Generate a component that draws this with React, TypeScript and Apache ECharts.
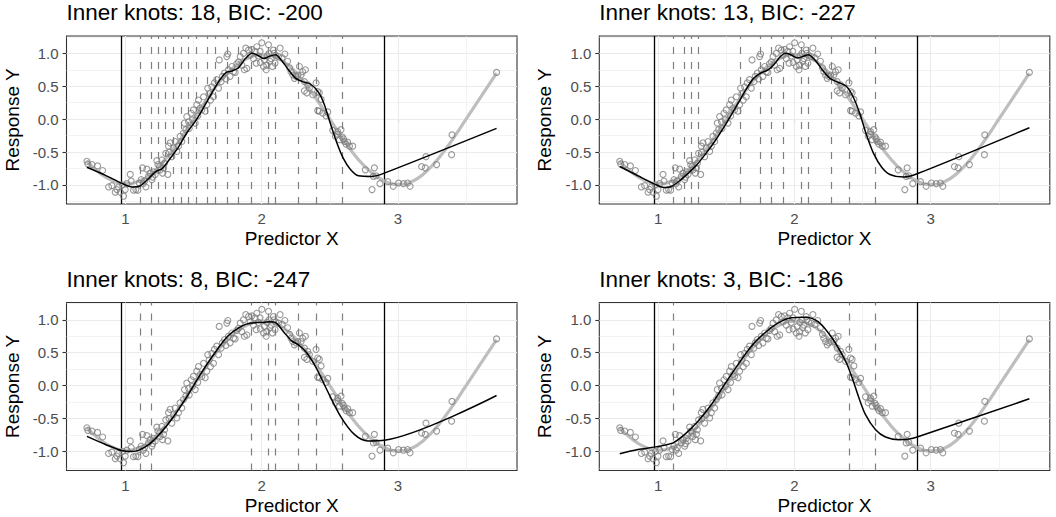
import React, { useEffect, useRef } from "react";
import * as echarts from "echarts";

// ---------- data ----------
const pointX = [
  0.717, 0.724, 0.754, 0.795, 0.832, 0.876, 0.9, 0.925, 0.937, 0.949, 0.961, 0.979, 0.986, 0.998,
  1.01, 1.035, 1.042, 1.059, 1.076, 1.091, 1.101, 1.115, 1.125, 1.13, 1.14, 1.15, 1.157, 1.169,
  1.181, 1.194, 1.2, 1.206, 1.218, 1.23, 1.238, 1.25, 1.255, 1.267, 1.272, 1.28, 1.287, 1.296,
  1.311, 1.316, 1.32, 1.328, 1.34, 1.353, 1.365, 1.377, 1.389, 1.401, 1.414, 1.426, 1.433, 1.443,
  1.45, 1.463, 1.468, 1.482, 1.492, 1.499, 1.512, 1.524, 1.531, 1.536, 1.548, 1.56, 1.573, 1.585,
  1.597, 1.604, 1.614, 1.624, 1.634, 1.646, 1.653, 1.67, 1.683, 1.688, 1.702, 1.712, 1.727, 1.737,
  1.744, 1.751, 1.756, 1.768, 1.781, 1.793, 1.805, 1.817, 1.83, 1.842, 1.854, 1.866, 1.873, 1.883,
  1.891, 1.903, 1.915, 1.927, 1.939, 1.952, 1.96, 1.964, 1.976, 1.988, 1.99, 2.001, 2.013, 2.02,
  2.033, 2.037, 2.04, 2.05, 2.054, 2.06, 2.069, 2.079, 2.086, 2.09, 2.098, 2.103, 2.123, 2.135,
  2.15, 2.17, 2.19, 2.205, 2.215, 2.228, 2.24, 2.252, 2.265, 2.277, 2.289, 2.301, 2.313, 2.321,
  2.313, 2.331, 2.338, 2.35, 2.375, 2.399, 2.411, 2.423, 2.436, 2.411, 2.423, 2.448, 2.485, 2.472,
  2.521, 2.541, 2.558, 2.56, 2.582, 2.57, 2.59, 2.6, 2.607, 2.62, 2.631, 2.644, 2.668, 2.761,
  2.81, 2.827, 2.82, 2.839, 2.868, 2.925, 2.966, 3.005, 3.04, 3.071, 3.089, 3.174, 3.201, 3.206,
  3.284, 3.394, 3.397, 3.724,
];
const pointY = [
  -0.64, -0.68, -0.69, -0.71, -0.78, -1.03, -1.01, -1.11, -1.07, -1.03, -1.11, -1.0, -1.17, -1.07,
  -0.98, -0.84, -0.94, -1.08, -1.07, -1.08, -0.97, -0.92, -0.74, -0.98, -0.94, -1.03, -0.76, -0.87,
  -0.82, -0.92, -0.88, -0.8, -0.84, -0.63, -0.69, -0.72, -0.77, -0.62, -0.82, -0.74, -0.67, -0.52,
  -0.84, -0.41, -0.5, -0.36, -0.57, -0.44, -0.34, -0.49, -0.41, -0.26, -0.34, -0.21, -0.06, -0.16,
  0.04, -0.04, -0.14, 0.09, -0.01, 0.14, -0.06, 0.22, 0.05, 0.29, 0.17, 0.14, 0.34, 0.12,
  0.22, 0.47, 0.39, 0.29, 0.49, 0.34, 0.55, 0.6, 0.47, 0.9, 0.57, 0.65, 0.7, 0.61,
  0.95, 0.99, 0.75, 0.65, 0.8, 0.72, 0.71, 0.84, 0.87, 0.95, 0.82, 1.0, 0.75, 1.08,
  0.77, 1.05, 0.97, 1.06, 0.92, 1.03, 0.85, 1.1, 0.96, 1.03, 0.86, 1.16, 0.8, 0.9,
  0.75, 0.82, 0.96, 1.13, 1.0, 0.88, 0.92, 0.8, 1.05, 1.0, 0.85, 0.97, 0.95, 1.08,
  0.93, 0.99, 0.88, 0.78, 0.72, 0.67, 0.62, 0.65, 0.67, 0.8, 0.67, 0.72, 0.57, 0.75,
  0.43, 0.4, 0.52, 0.47, 0.37, 0.55, 0.42, 0.4, 0.3, 0.13, 0.12, 0.09, 0.11, 0.05,
  -0.17, -0.26, -0.19, -0.23, -0.16, -0.31, -0.27, -0.3, -0.34, -0.38, -0.35, -0.41, -0.41, -0.77,
  -1.07, -0.74, -0.87, -0.86, -0.98, -0.95, -1.02, -0.97, -0.98, -0.97, -1.02, -0.72, -0.74, -0.57,
  -0.69, -0.54, -0.24, 0.71,
];

const smoothX = [0.717, 0.8, 0.9, 1.0, 1.1, 1.2, 1.3, 1.4, 1.5, 1.6, 1.7, 1.8, 1.9, 2.0, 2.1, 2.2, 2.3, 2.4, 2.5, 2.6, 2.7, 2.8, 2.9, 3.0, 3.1, 3.2, 3.3, 3.4, 3.5, 3.6, 3.724];
const smoothY = [-0.64, -0.8, -0.93, -0.98, -0.94, -0.81, -0.59, -0.31, 0.0, 0.31, 0.59, 0.8, 0.93, 0.98, 0.94, 0.81, 0.59, 0.31, 0.0, -0.31, -0.59, -0.8, -0.94, -0.99, -0.95, -0.81, -0.59, -0.31, 0.0, 0.31, 0.7];

const fit18X = [0.717, 0.85, 0.978, 1.05, 1.1, 1.16, 1.22, 1.27, 1.33, 1.39, 1.45, 1.52, 1.58, 1.64, 1.7, 1.74, 1.78, 1.83, 1.88, 1.93, 1.98, 2.015, 2.05, 2.1, 2.15, 2.2, 2.25, 2.3, 2.36, 2.42, 2.46, 2.5, 2.55, 2.6, 2.65, 2.71, 2.81, 2.9, 3.724];
const fit18Y = [-0.73, -0.85, -0.98, -1.03, -1.02, -0.92, -0.8, -0.75, -0.59, -0.42, -0.21, -0.01, 0.2, 0.42, 0.62, 0.71, 0.73, 0.78, 0.92, 1.0, 0.96, 0.92, 0.95, 0.98, 0.88, 0.74, 0.62, 0.57, 0.53, 0.4, 0.22, -0.04, -0.35, -0.6, -0.76, -0.86, -0.87, -0.82, -0.14];

const fit13X = [0.717, 0.85, 0.978, 1.05, 1.1, 1.16, 1.22, 1.28, 1.35, 1.42, 1.5, 1.58, 1.65, 1.7, 1.75, 1.8, 1.85, 1.9, 1.94, 1.98, 2.02, 2.06, 2.1, 2.15, 2.2, 2.26, 2.32, 2.38, 2.43, 2.48, 2.53, 2.58, 2.64, 2.7, 2.8, 2.9, 3.724];
const fit13Y = [-0.72, -0.86, -0.99, -1.04, -1.02, -0.93, -0.82, -0.7, -0.52, -0.32, -0.06, 0.22, 0.47, 0.62, 0.7, 0.74, 0.83, 0.96, 1.0, 0.97, 0.93, 0.95, 0.98, 0.9, 0.76, 0.62, 0.56, 0.5, 0.34, 0.08, -0.25, -0.52, -0.73, -0.84, -0.88, -0.83, -0.13];

const fit8X = [0.717, 0.85, 0.978, 1.05, 1.1, 1.18, 1.25, 1.35, 1.45, 1.55, 1.65, 1.75, 1.85, 1.92, 2.0, 2.06, 2.1, 2.16, 2.22, 2.27, 2.33, 2.4, 2.48, 2.58, 2.68, 2.78, 2.9, 3.724];
const fit8Y = [-0.77, -0.89, -0.99, -1.0, -0.98, -0.88, -0.74, -0.48, -0.17, 0.17, 0.48, 0.75, 0.9, 0.95, 0.96, 0.97, 0.96, 0.82, 0.68, 0.62, 0.5, 0.27, -0.07, -0.47, -0.74, -0.84, -0.83, -0.15];

const fit3X = [0.717, 0.851, 0.979, 1.108, 1.194, 1.292, 1.389, 1.487, 1.585, 1.683, 1.781, 1.878, 1.976, 2.074, 2.175, 2.277, 2.375, 2.423, 2.472, 2.521, 2.595, 2.668, 2.766, 2.839, 2.9, 3.724];
const fit3Y = [-1.035, -0.97, -0.93, -0.87, -0.74, -0.54, -0.29, 0.02, 0.32, 0.6, 0.8, 0.95, 1.03, 1.04, 0.97, 0.72, 0.37, 0.12, -0.18, -0.44, -0.67, -0.78, -0.82, -0.81, -0.78, -0.2];

const knots18 = [1.108, 1.188, 1.242, 1.286, 1.35, 1.41, 1.46, 1.52, 1.599, 1.66, 1.746, 1.832, 1.92, 2.052, 2.101, 2.265, 2.399, 2.59];
const knots13 = [1.108, 1.188, 1.242, 1.286, 1.599, 1.746, 1.832, 1.92, 2.052, 2.101, 2.265, 2.399, 2.59];
const knots8 = [1.108, 1.188, 1.92, 2.052, 2.101, 2.265, 2.399, 2.59];
const knots3 = [1.108, 2.399, 2.59];
const boundaryKnots = [0.971, 2.9];

const panelTitles = [
  "Inner knots: 18, BIC: -200",
  "Inner knots: 13, BIC: -227",
  "Inner knots: 8, BIC: -247",
  "Inner knots: 3, BIC: -186",
];

const xTicks = [1, 2, 3];
const xMinor = [1.5, 2.5, 3.5];
const yTicks = [-1, -0.5, 0, 0.5, 1];
const yMinor = [-1.25, -0.75, -0.25, 0.25, 0.75, 1.25];

// ---------- chart ----------
const FONT = "'Liberation Sans', Arial, Helvetica, sans-serif";
const X_RANGE = [0.567, 3.874];
const Y_RANGE = [-1.289, 1.263];

const grids = [
  { left: 66.5, top: 36 },
  { left: 599.3, top: 36 },
  { left: 66.5, top: 302.5 },
  { left: 599.3, top: 302.5 },
];
const GW = 450.5;
const GH = 168;

function buildOption() {
  const fits = [
    [fit18X, fit18Y],
    [fit13X, fit13Y],
    [fit8X, fit8Y],
    [fit3X, fit3Y],
  ];
  const knotSets = [knots18, knots13, knots8, knots3];
  const points = pointX.map((x, i) => [x, pointY[i]]);
  const smooth = smoothX.map((x, i) => [x, smoothY[i]]);

  const series: any[] = [];
  grids.forEach((_, i) => {
    const common = { xAxisIndex: i, yAxisIndex: i };
    series.push({
      ...common,
      type: "line",
      data: [],
      silent: true,
      z: 1,
      markLine: {
        z: 1,
        silent: true,
        symbol: ["none", "none"],
        label: { show: false },
        emphasis: { disabled: true },
        animation: false,
        lineStyle: { color: "#EBEBEB", width: 1.1, type: "solid" },
        data: [
          ...xMinor.map((v) => ({ xAxis: v, lineStyle: { color: "#EBEBEB", width: 0.6, type: "solid" } })),
          ...yMinor.map((v) => ({ yAxis: v, lineStyle: { color: "#EBEBEB", width: 0.6, type: "solid" } })),
          ...xTicks.map((v) => ({ xAxis: v })),
          ...yTicks.map((v) => ({ yAxis: v })),
        ],
      },
    });
    series.push({
      ...common,
      type: "line",
      data: [],
      silent: true,
      z: 2,
      markLine: {
        z: 2,
        silent: true,
        symbol: ["none", "none"],
        label: { show: false },
        emphasis: { disabled: true },
        animation: false,
        data: [
          ...knotSets[i].map((v) => ({ xAxis: v, lineStyle: { color: "#7F7F7F", width: 1.2, type: [7, 8] } })),
          ...boundaryKnots.map((v) => ({ xAxis: v, lineStyle: { color: "#000000", width: 1.3, type: "solid" } })),
        ],
      },
    });
    series.push({
      ...common,
      type: "line",
      data: smooth,
      smooth: true,
      showSymbol: false,
      silent: true,
      z: 3,
      lineStyle: { color: "#BEBEBE", width: 3.2 },
    });
    series.push({
      ...common,
      type: "scatter",
      data: points,
      symbol: "circle",
      symbolSize: 6,
      silent: true,
      z: 4,
      itemStyle: { color: "rgba(0,0,0,0)", borderColor: "#7F7F7F", borderWidth: 1.1 },
    });
    series.push({
      ...common,
      type: "line",
      data: fits[i][0].map((x, j) => [x, fits[i][1][j]]),
      smooth: 0.3,
      showSymbol: false,
      silent: true,
      z: 5,
      lineStyle: { color: "#000000", width: 1.5 },
    });
  });

  return {
    animation: false,
    backgroundColor: "#ffffff",
    title: grids.map((g, i) => ({
      text: panelTitles[i],
      left: g.left,
      top: g.top - 35,
      padding: 0,
      textStyle: { fontSize: 22.5, fontWeight: "normal", color: "#000000", fontFamily: FONT },
    })),
    grid: grids.map((g) => ({
      left: g.left,
      top: g.top,
      width: GW,
      height: GH,
      show: true,
      borderColor: "#333333",
      borderWidth: 1.1,
      backgroundColor: "rgba(0,0,0,0)",
      containLabel: false,
    })),
    xAxis: grids.map((_, i) => ({
      type: "value",
      gridIndex: i,
      min: X_RANGE[0],
      max: X_RANGE[1],
      axisLine: { show: false },
      axisTick: { show: true, length: 4, lineStyle: { color: "#333333", width: 1.1 }, customValues: xTicks },
      axisLabel: {
        customValues: xTicks,
        color: "#4D4D4D",
        fontSize: 15,
        margin: 7,
        fontFamily: FONT,
        formatter: (v: number) => String(v),
      },
      splitLine: { show: false },
      name: "Predictor X",
      nameLocation: "middle",
      nameGap: 25,
      nameTextStyle: { fontSize: 19, color: "#000000", fontFamily: FONT },
    })),
    yAxis: grids.map((_, i) => ({
      type: "value",
      gridIndex: i,
      min: Y_RANGE[0],
      max: Y_RANGE[1],
      axisLine: { show: false },
      axisTick: { show: true, length: 4, lineStyle: { color: "#333333", width: 1.1 }, customValues: yTicks },
      axisLabel: {
        customValues: yTicks,
        color: "#4D4D4D",
        fontSize: 15,
        margin: 8,
        fontFamily: FONT,
        formatter: (v: number) => v.toFixed(1),
      },
      splitLine: { show: false },
      name: "Response Y",
      nameLocation: "middle",
      nameGap: 45,
      nameRotate: 90,
      nameTextStyle: { fontSize: 19, color: "#000000", fontFamily: FONT },
    })),
    series,
  };
}

export default function App() {
  const ref = useRef<HTMLDivElement | null>(null);
  useEffect(() => {
    document.body.style.margin = "0";
    if (!ref.current) return;
    const chart = echarts.init(ref.current, undefined, { renderer: "svg" });
    chart.setOption(buildOption() as any);
    return () => chart.dispose();
  }, []);
  return <div ref={ref} style={{ width: 1056, height: 517 }} />;
}
